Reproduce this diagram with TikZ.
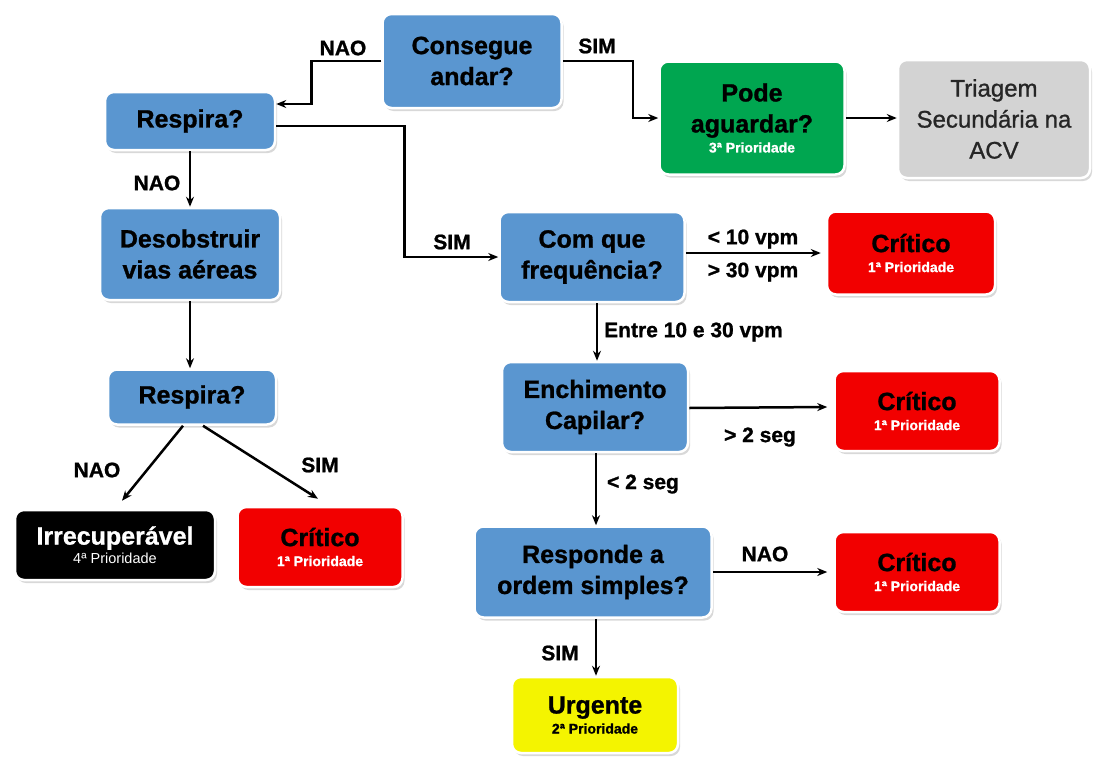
\documentclass[tikz,border=0pt]{standalone}
\usepackage{fontspec}
\setmainfont{Liberation Sans}[BoldFeatures={FakeBold=1}]
\newfontfamily\medfont[FakeBold=1]{Liberation Sans}
\usetikzlibrary{shadows,arrows.meta}
\definecolor{boxblue}{HTML}{5A96D0}
\definecolor{boxgreen}{HTML}{00A650}
\definecolor{boxred}{HTML}{F20000}
\definecolor{boxgray}{HTML}{D3D3D3}
\definecolor{boxyellow}{HTML}{F4F400}
\definecolor{txtgray}{HTML}{262626}
\tikzset{
  box/.style={rectangle, rounded corners=9pt, draw=white, line width=2.5pt,
    drop shadow={shadow xshift=2pt, shadow yshift=-3pt, opacity=0.3},
    align=center, inner sep=2pt,
    font=\fontsize{25}{31}\selectfont\bfseries},
  qbox/.style={box, fill=boxblue},
  redbox/.style={box, fill=boxred, minimum width=165pt, minimum height=80pt},
  conn/.style={-{Stealth[length=10pt,width=8pt]}, line width=2.5pt},
  lbl/.style={font=\fontsize{21}{24}\selectfont\bfseries, inner sep=1pt}
}
\newcommand{\subline}[2]{\\[-11pt]{\color{#1}\fontsize{14}{16}\selectfont\bfseries #2}}
\begin{document}
\begin{tikzpicture}[x=1pt,y=-1pt]
\useasboundingbox (0,0) rectangle (1093,758);
\fill[white] (0,0) rectangle (1093,758);

\node[qbox, minimum width=179pt, minimum height=94pt] (cons) at (472,61) {Consegue\\andar?};
\node[qbox, minimum width=170pt, minimum height=58pt] (resp1) at (190,121) {Respira?};
\node[qbox, minimum width=180pt, minimum height=92pt] (deso) at (190,254) {Desobstruir\\vias aéreas};
\node[qbox, minimum width=168pt, minimum height=55pt] (resp2) at (192,397) {Respira?};
\node[box, fill=black, text=white, minimum width=200pt, minimum height=70pt] (irr) at (115,545)
  {Irrecuperável\\[-12pt]{\fontsize{14.5}{16}\selectfont\mdseries 4ª Prioridade}};
\node[redbox] (critL) at (320,547) {Crítico\subline{white}{1ª Prioridade}};
\node[box, fill=boxgreen, minimum width=185pt, minimum height=113pt] (pode) at (752,118)
  {Pode\\aguardar?\subline{white}{3ª Prioridade}};
\node[box, fill=boxgray, text=txtgray, minimum width=192pt, minimum height=118pt,
  font=\medfont\fontsize{24}{31}\selectfont] (triag) at (994,119) {Triagem\\Secundária na\\ACV};
\node[qbox, minimum width=185pt, minimum height=90pt] (freq) at (592,257) {Com que\\frequência?};
\node[redbox, minimum height=83pt, minimum width=168pt] (crit1) at (911,253) {Crítico\subline{white}{1ª Prioridade}};
\node[qbox, minimum width=186pt, minimum height=90pt] (ench) at (595,407) {Enchimento\\Capilar?};
\node[redbox] (crit2) at (917,411) {Crítico\subline{white}{1ª Prioridade}};
\node[qbox, minimum width=237pt, minimum height=91pt] (respo) at (593,572) {Responde a\\ordem simples?};
\node[redbox] (crit3) at (917,572) {Crítico\subline{white}{1ª Prioridade}};
\node[box, fill=boxyellow, minimum width=166pt, minimum height=76pt] (urg) at (595,715)
  {Urgente\subline{black}{2ª Prioridade}};

% connectors
\draw[conn] (cons.west) -- ++(-70,0) |- ([yshift=17pt]resp1.east);
\node[lbl] (lnao1) at (343,48) {NAO};
\draw[conn] (cons.east) -- ++(70,0) |- (pode.west);
\node[lbl] (lsim1) at (597,46) {SIM};
\draw[conn] (pode.east) -- (pode.east -| triag.west);
\draw[conn] ([yshift=-5pt]resp1.east) -- ++(128,0) |- (freq.west);
\node[lbl] (lsim2) at (452,242) {SIM};
\draw[conn] (resp1.south) -- (deso.north);
\node[lbl] (lnao2) at (157,183) {NAO};
\draw[conn] (deso.south) -- (deso.south |- resp2.north);
\draw[conn] ([xshift=-9pt]resp2.south) -- ([xshift=7pt,yshift=8pt]irr.north);
\node[lbl] (lnao3) at (97,470) {NAO};
\draw[conn] ([xshift=11pt]resp2.south) -- ([xshift=-2pt,yshift=7pt]critL.north);
\node[lbl] (lsim3) at (320,465) {SIM};
\draw[conn] (freq.east |- crit1.west) -- ([xshift=-5pt]crit1.west);
\node[lbl] (l10) at (753,239) {< 10 vpm};
\node[lbl] (l30) at (753,272) {> 30 vpm};
\draw[conn] ([xshift=5pt]freq.south) -- ([xshift=2pt]ench.north);
\node[lbl, anchor=west] (lentre) at (603,332) {Entre 10 e 30 vpm};
\draw[conn] ([yshift=-1pt]ench.east) -- ([xshift=-6pt]ench.east -| crit2.west);
\node[lbl] (l2a) at (760,437) {> 2 seg};
\draw[conn] ([xshift=1pt]ench.south) -- ([xshift=3pt]respo.north);
\node[lbl] (l2b) at (643,484) {< 2 seg};
\draw[conn] (respo.east) -- ([xshift=-6pt]crit3.west);
\node[lbl] (lnao4) at (765,554) {NAO};
\draw[conn] ([xshift=3pt]respo.south) -- ([xshift=1pt]urg.north);
\node[lbl] (lsim4) at (560,653) {SIM};
\end{tikzpicture}
\end{document}
